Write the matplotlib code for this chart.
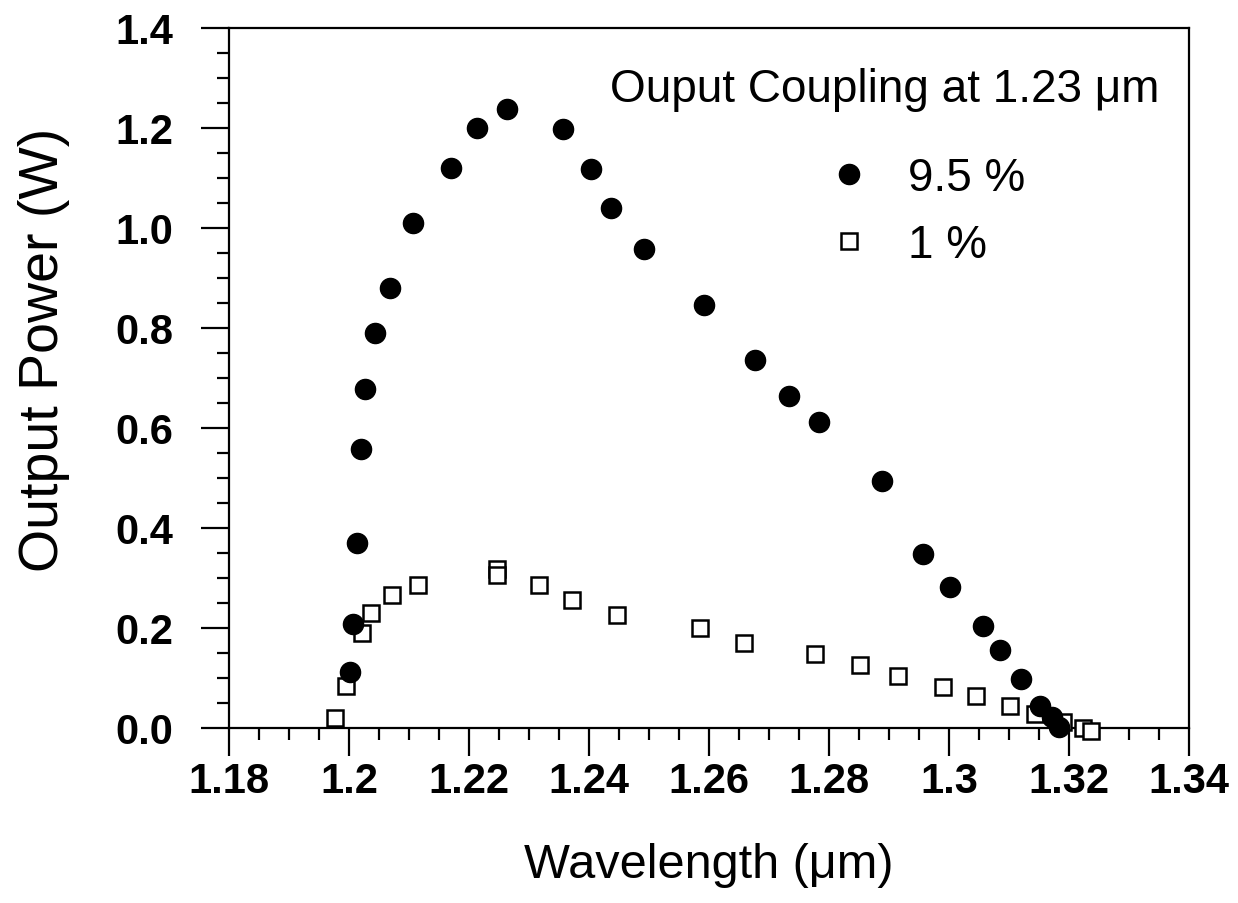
import matplotlib
matplotlib.use("Agg")
import matplotlib.pyplot as plt
from matplotlib.ticker import MultipleLocator, FixedLocator, FixedFormatter

plt.rcParams['font.family'] = ['Liberation Sans', 'DejaVu Sans']

# 9.5 % output coupling (filled circles)
wl_95 = [1.2002, 1.2007, 1.2014, 1.2020, 1.2027, 1.2044, 1.2069, 1.2107, 1.2170,
         1.2214, 1.2264, 1.2356, 1.2404, 1.2437, 1.2492, 1.2591, 1.2676, 1.2733,
         1.2784, 1.2889, 1.2956, 1.3001, 1.3057, 1.3085, 1.3120, 1.3152, 1.3172,
         1.3184]
p_95 = [0.113, 0.209, 0.371, 0.559, 0.679, 0.790, 0.881, 1.011, 1.120,
        1.200, 1.239, 1.199, 1.119, 1.041, 0.958, 0.847, 0.736, 0.665,
        0.613, 0.494, 0.349, 0.282, 0.205, 0.156, 0.098, 0.044, 0.022,
        0.003]

# 1 % output coupling (open squares)
wl_1 = [1.1977, 1.1995, 1.2022, 1.2037, 1.2072, 1.2115, 1.2246, 1.2246, 1.2317,
        1.2372, 1.2447, 1.2585, 1.2659, 1.2776, 1.2851, 1.2915, 1.2990, 1.3045,
        1.3101, 1.3144, 1.3190, 1.3224, 1.3236]
p_1 = [0.021, 0.085, 0.191, 0.231, 0.267, 0.286, 0.318, 0.306, 0.286,
       0.257, 0.227, 0.201, 0.170, 0.148, 0.126, 0.104, 0.083, 0.065,
       0.045, 0.029, 0.013, 0.001, -0.006]

x_ticks = [1.18, 1.20, 1.22, 1.24, 1.26, 1.28, 1.30, 1.32, 1.34]
x_ticklabels = ["1.18", "1.2", "1.22", "1.24", "1.26", "1.28", "1.3", "1.32", "1.34"]
y_ticks = [0.0, 0.2, 0.4, 0.6, 0.8, 1.0, 1.2, 1.4]
y_ticklabels = ["0.0", "0.2", "0.4", "0.6", "0.8", "1.0", "1.2", "1.4"]

fig = plt.figure(figsize=(12.38, 9.04), dpi=100)
ax = fig.add_axes([229 / 1238, 1 - 729 / 904, 960 / 1238, 700 / 904])

sq, = ax.plot(wl_1, p_1, linestyle='none', marker='s', markersize=11.5,
              markerfacecolor='white', markeredgecolor='black',
              markeredgewidth=1.8, clip_on=False, zorder=3, label='1 %')
ci, = ax.plot(wl_95, p_95, linestyle='none', marker='o', markersize=14.5,
              color='black', clip_on=False, zorder=4, label='9.5 %')

ax.set_xlim(1.18, 1.34)
ax.set_ylim(0.0, 1.4)

ax.xaxis.set_major_locator(FixedLocator(x_ticks))
ax.xaxis.set_major_formatter(FixedFormatter(x_ticklabels))
ax.xaxis.set_minor_locator(MultipleLocator(0.005))
ax.yaxis.set_major_locator(FixedLocator(y_ticks))
ax.yaxis.set_major_formatter(FixedFormatter(y_ticklabels))
ax.yaxis.set_minor_locator(MultipleLocator(0.05))

for s in ax.spines.values():
    s.set_linewidth(1.6)

ax.tick_params(axis='both', which='major', direction='out', length=20, width=1.6,
               labelsize=30)
ax.tick_params(axis='both', which='minor', direction='out', length=8.5, width=1.6)
ax.tick_params(axis='x', which='major', pad=4)
ax.tick_params(axis='y', which='major', pad=20)
for lab in ax.get_xticklabels() + ax.get_yticklabels():
    lab.set_fontweight('bold')

ax.set_xlabel("Wavelength (\u03bcm)", fontsize=35, va='center')
ax.xaxis.set_label_coords(0.5, (729 - 866) / 700)
ax.set_ylabel("Output Power (W)", fontsize=40, va='center')
ax.yaxis.set_label_coords((44 - 229) / 960, (729 - 350) / 700)

ax.text((610 - 229) / 960, (729 - 90) / 700, "Ouput Coupling at 1.23 \u03bcm",
        transform=ax.transAxes, fontsize=33, ha='left', va='center')

leg = ax.legend(handles=[ci, sq], loc='upper left',
                bbox_to_anchor=((826 - 229) / 960, (729 - 157) / 700),
                frameon=False, fontsize=33, handlelength=1.0, handletextpad=0.8,
                labelspacing=0.5, borderpad=0, borderaxespad=0, numpoints=1)

fig.savefig("out.png", dpi=100)
